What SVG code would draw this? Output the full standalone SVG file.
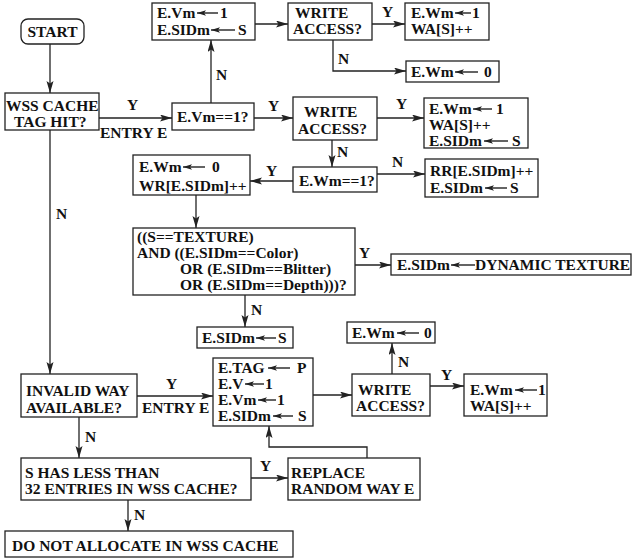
<svg xmlns="http://www.w3.org/2000/svg" width="632" height="559" viewBox="0 0 632 559">
<defs>
<style>
.t{font-family:"Liberation Serif","Times New Roman",serif;font-weight:bold;font-size:15.5px;fill:#111}
.b{fill:#fff;stroke:#222;stroke-width:1.3}
.c{fill:none;stroke:#222;stroke-width:1.3;marker-end:url(#ah)}
.ia{stroke:#222;stroke-width:1.4;marker-start:url(#ih)}
</style>
<marker id="ah" markerUnits="userSpaceOnUse" markerWidth="13" markerHeight="8" refX="12" refY="3.5" orient="auto"><path d="M0,0 L12,3.5 L0,7 L2.5,3.5 z" fill="#222"/></marker>
<marker id="ih" markerUnits="userSpaceOnUse" markerWidth="10" markerHeight="6" refX="9" refY="2.75" orient="auto-start-reverse"><path d="M0,0 L9,2.75 L0,5.5 L2,2.75 z" fill="#222"/></marker>
</defs>
<rect width="632" height="559" fill="#fff"/>
<g id="connectors">
<path class="c" d="M50,44 V93"/>
<path class="c" d="M99,118 H172"/>
<text class="t" x="127" y="110">Y</text>
<text class="t" x="100" y="138">ENTRY E</text>
<path class="c" d="M211,103 V40"/>
<text class="t" x="216" y="80">N</text>
<path class="c" d="M255,24 H288"/>
<path class="c" d="M372,24 H405"/>
<text class="t" x="382" y="17">Y</text>
<path class="c" d="M333,40 V71 H406"/>
<text class="t" x="338" y="64">N</text>
<path class="c" d="M254,118 H293"/>
<text class="t" x="268" y="111">Y</text>
<path class="c" d="M377,118 H424"/>
<text class="t" x="396" y="109">Y</text>
<path class="c" d="M332,140 V167"/>
<text class="t" x="337" y="157">N</text>
<path class="c" d="M377,174 H425"/>
<text class="t" x="392" y="167">N</text>
<path class="c" d="M293,181 H250"/>
<text class="t" x="266" y="176">Y</text>
<path class="c" d="M196,195 V228"/>
<path class="c" d="M355,265 H391"/>
<text class="t" x="359" y="258">Y</text>
<path class="c" d="M245,295 V327"/>
<text class="t" x="251" y="315">N</text>
<path class="c" d="M50,130 V374"/>
<text class="t" x="56" y="219">N</text>
<path class="c" d="M137,396 H213"/>
<text class="t" x="166" y="389">Y</text>
<text class="t" x="142" y="413">ENTRY E</text>
<path class="c" d="M313,395 H352"/>
<path class="c" d="M392,374 V343"/>
<text class="t" x="398" y="367">N</text>
<path class="c" d="M430,386 H464"/>
<text class="t" x="441" y="380">Y</text>
<path class="c" d="M79,417 V458"/>
<text class="t" x="85" y="442">N</text>
<path class="c" d="M251,478 H288"/>
<text class="t" x="260" y="471">Y</text>
<path class="c" d="M367,458 V447 H269 V426"/>
<path class="c" d="M128,500 V531"/>
<text class="t" x="134" y="520">N</text>
</g>
<g id="start">
<rect class="b" x="21" y="19" width="63" height="25" rx="7"/>
<text class="t" x="52.5" y="37" text-anchor="middle">START</text>
</g>
<g id="wss-hit">
<rect class="b" x="5" y="93" width="94" height="37"/>
<text class="t" x="6" y="111">WSS CACHE</text>
<text class="t" x="14" y="127">TAG HIT?</text>
</g>
<g id="vm-check">
<rect class="b" x="172" y="103" width="82" height="27"/>
<text class="t" x="177" y="122">E.Vm==1?</text>
</g>
<g id="set-vm">
<rect class="b" x="152" y="3" width="103" height="37"/>
<text class="t" x="157" y="18">E.Vm</text>
<line class="ia" x1="197" y1="13" x2="218" y2="13"/>
<text class="t" x="220" y="18">1</text>
<text class="t" x="157" y="35">E.SIDm</text>
<line class="ia" x1="211" y1="30" x2="235" y2="30"/>
<text class="t" x="238" y="35">S</text>
</g>
<g id="write1">
<rect class="b" x="288" y="3" width="84" height="37"/>
<text class="t" x="295" y="18">WRITE</text>
<text class="t" x="293" y="34">ACCESS?</text>
</g>
<g id="wm1-a">
<rect class="b" x="405" y="3" width="84" height="37"/>
<text class="t" x="411" y="18">E.Wm</text>
<line class="ia" x1="455" y1="13" x2="471" y2="13"/>
<text class="t" x="472" y="18">1</text>
<text class="t" x="411" y="34">WA[S]++</text>
</g>
<g id="wm0-a">
<rect class="b" x="406" y="61" width="93" height="21"/>
<text class="t" x="411" y="77">E.Wm</text>
<line class="ia" x1="455" y1="72" x2="478" y2="72"/>
<text class="t" x="484" y="77">0</text>
</g>
<g id="write2">
<rect class="b" x="293" y="97" width="84" height="43"/>
<text class="t" x="304" y="117">WRITE</text>
<text class="t" x="298" y="134">ACCESS?</text>
</g>
<g id="wm1-b">
<rect class="b" x="424" y="98" width="104" height="50"/>
<text class="t" x="429" y="114">E.Wm</text>
<line class="ia" x1="473" y1="109" x2="492" y2="109"/>
<text class="t" x="496" y="114">1</text>
<text class="t" x="429" y="130">WA[S]++</text>
<text class="t" x="429" y="146">E.SIDm</text>
<line class="ia" x1="484" y1="141" x2="508" y2="141"/>
<text class="t" x="512" y="146">S</text>
</g>
<g id="wm-check">
<rect class="b" x="293" y="167" width="84" height="25"/>
<text class="t" x="299" y="186">E.Wm==1?</text>
</g>
<g id="rr">
<rect class="b" x="425" y="159" width="113" height="38"/>
<text class="t" x="430" y="176">RR[E.SIDm]++</text>
<text class="t" x="430" y="193">E.SIDm</text>
<line class="ia" x1="485" y1="188" x2="507" y2="188"/>
<text class="t" x="510" y="193">S</text>
</g>
<g id="wr">
<rect class="b" x="133" y="155" width="117" height="40"/>
<text class="t" x="139" y="172">E.Wm</text>
<line class="ia" x1="183" y1="167" x2="205" y2="167"/>
<text class="t" x="212" y="172">0</text>
<text class="t" x="139" y="191">WR[E.SIDm]++</text>
</g>
<g id="texture-check">
<rect class="b" x="133" y="228" width="222" height="67"/>
<text class="t" x="137" y="242">((S==TEXTURE)</text>
<text class="t" x="137" y="258">AND ((E.SIDm==Color)</text>
<text class="t" x="180" y="274">OR (E.SIDm==Blitter)</text>
<text class="t" x="180" y="290">OR (E.SIDm==Depth)))?</text>
</g>
<g id="dynamic">
<rect class="b" x="391" y="254" width="240" height="21"/>
<text class="t" x="397" y="270">E.SIDm</text>
<line class="ia" x1="451" y1="265" x2="475" y2="265"/>
<text class="t" x="475" y="270">DYNAMIC TEXTURE</text>
</g>
<g id="sidm-s">
<rect class="b" x="197" y="327" width="96" height="21"/>
<text class="t" x="202" y="343">E.SIDm</text>
<line class="ia" x1="256" y1="338" x2="276" y2="338"/>
<text class="t" x="278" y="343">S</text>
</g>
<g id="invalid">
<rect class="b" x="21" y="374" width="116" height="43"/>
<text class="t" x="26" y="396">INVALID WAY</text>
<text class="t" x="26" y="413">AVAILABLE?</text>
</g>
<g id="tag">
<rect class="b" x="213" y="358" width="100" height="68"/>
<text class="t" x="218" y="373">E.TAG</text>
<line class="ia" x1="268" y1="368" x2="290" y2="368"/>
<text class="t" x="297" y="373">P</text>
<text class="t" x="218" y="389">E.V</text>
<line class="ia" x1="245" y1="384" x2="264" y2="384"/>
<text class="t" x="265" y="389">1</text>
<text class="t" x="218" y="405">E.Vm</text>
<line class="ia" x1="258" y1="400" x2="276" y2="400"/>
<text class="t" x="277" y="405">1</text>
<text class="t" x="218" y="421">E.SIDm</text>
<line class="ia" x1="273" y1="416" x2="293" y2="416"/>
<text class="t" x="298" y="421">S</text>
</g>
<g id="write3">
<rect class="b" x="352" y="374" width="78" height="42"/>
<text class="t" x="358" y="395">WRITE</text>
<text class="t" x="356" y="411">ACCESS?</text>
</g>
<g id="wm0-b">
<rect class="b" x="347" y="322" width="88" height="21"/>
<text class="t" x="352" y="338">E.Wm</text>
<line class="ia" x1="397" y1="333" x2="419" y2="333"/>
<text class="t" x="424" y="338">0</text>
</g>
<g id="wm1-c">
<rect class="b" x="464" y="374" width="83" height="42"/>
<text class="t" x="470" y="395">E.Wm</text>
<line class="ia" x1="515" y1="390" x2="537" y2="390"/>
<text class="t" x="538" y="395">1</text>
<text class="t" x="470" y="411">WA[S]++</text>
</g>
<g id="less32">
<rect class="b" x="21" y="458" width="230" height="42"/>
<text class="t" x="25" y="478">S HAS LESS THAN</text>
<text class="t" x="25" y="494">32 ENTRIES IN WSS CACHE?</text>
</g>
<g id="replace">
<rect class="b" x="288" y="458" width="132" height="42"/>
<text class="t" x="291" y="478">REPLACE</text>
<text class="t" x="291" y="494">RANDOM WAY E</text>
</g>
<g id="no-alloc">
<rect class="b" x="5" y="531" width="288" height="26"/>
<text class="t" x="12" y="551">DO NOT ALLOCATE IN WSS CACHE</text>
</g>
</svg>
